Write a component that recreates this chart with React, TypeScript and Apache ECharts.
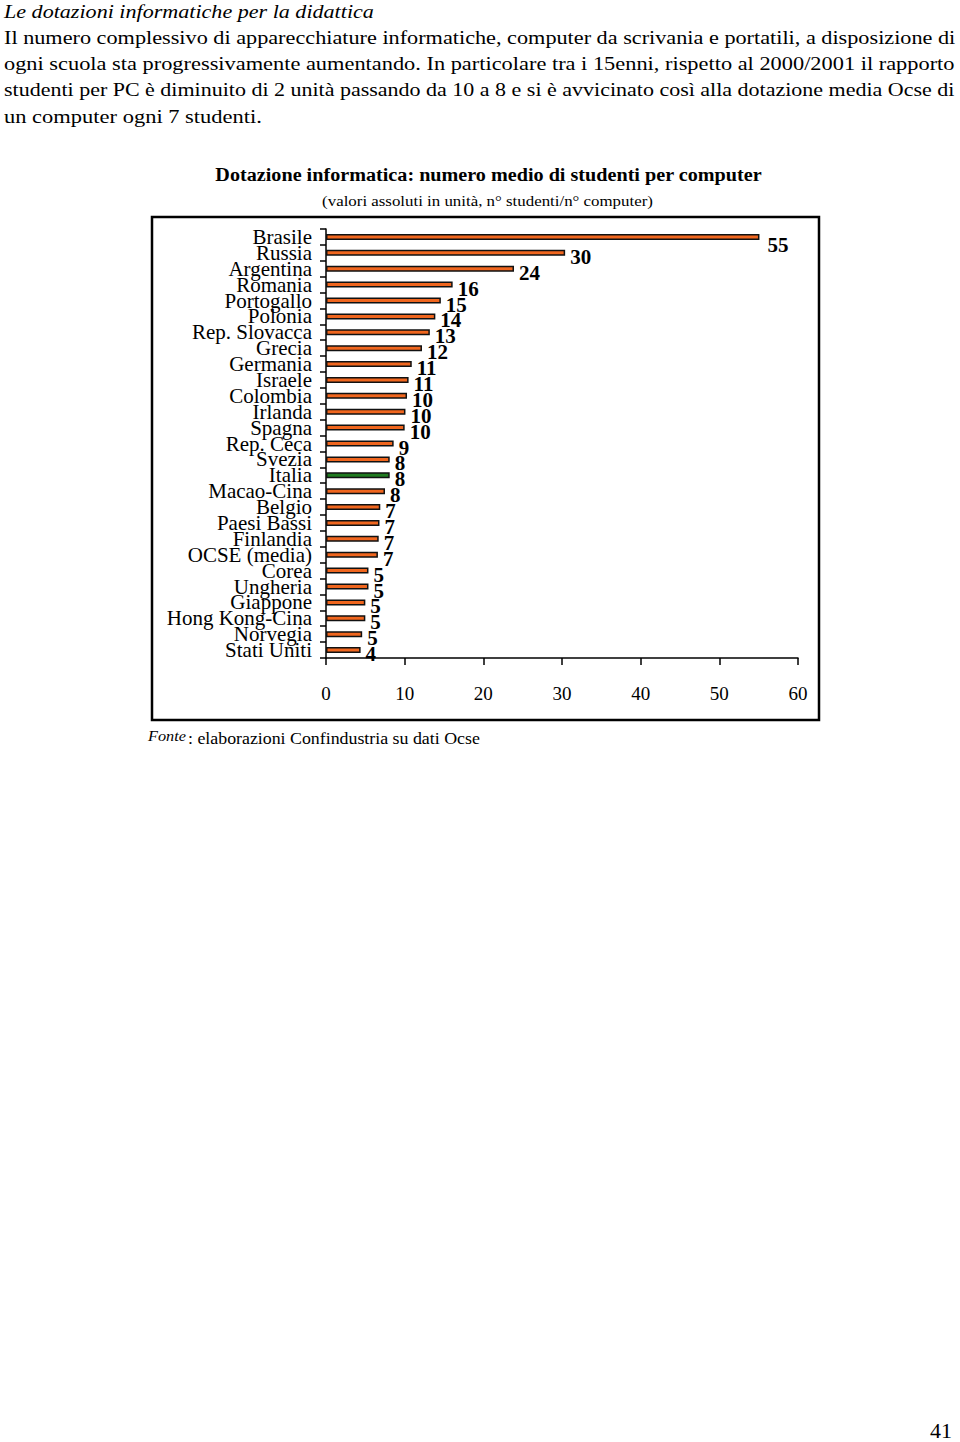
import React, { useEffect, useRef } from "react";
import * as echarts from "echarts";

const categories = [
  "Brasile", "Russia", "Argentina", "Romania", "Portogallo", "Polonia", "Rep. Slovacca",
  "Grecia", "Germania", "Israele", "Colombia", "Irlanda", "Spagna", "Rep. Ceca", "Svezia",
  "Italia", "Macao-Cina", "Belgio", "Paesi Bassi", "Finlandia", "OCSE (media)", "Corea",
  "Ungheria", "Giappone", "Hong Kong-Cina", "Norvegia", "Stati Uniti",
];
const values = [
  55.1, 30.4, 23.9, 16.1, 14.6, 13.9, 13.2, 12.2, 10.9, 10.5, 10.3, 10.1, 10.0, 8.6, 8.1,
  8.1, 7.5, 6.9, 6.8, 6.7, 6.6, 5.4, 5.4, 5.0, 5.0, 4.6, 4.4,
];
const labelValues = [
  55, 30, 24, 16, 15, 14, 13, 12, 11, 11, 10, 10, 10, 9, 8, 8, 8, 7, 7, 7, 7, 5, 5, 5, 5, 5, 4,
];
const highlightCategory = "Italia";
const xMin = 0;
const xMax = 60;
const xStep = 10;

const heading = "Le dotazioni informatiche per la didattica";
const bodyLines = [
  "Il numero complessivo di apparecchiature informatiche, computer da scrivania e portatili, a disposizione di",
  "ogni scuola sta progressivamente aumentando. In particolare tra i 15enni, rispetto al 2000/2001 il rapporto",
  "studenti per PC è diminuito di 2 unità passando da 10 a 8 e si è avvicinato così alla dotazione media Ocse di",
  "un computer ogni 7 studenti.",
];
const chartTitle = "Dotazione informatica: numero medio di studenti per computer";
const chartSubtitle = "(valori assoluti in unità, n° studenti/n° computer)";
const sourceLabel = "Fonte";
const sourceText = ": elaborazioni Confindustria su dati Ocse";
const pageNumber = "41";

const SERIF = "Liberation Serif";
const ORANGE = "#F0661E";
const GREEN = "#1F7A1F";

function measure(text: string, size: number, weight = "normal", style = "normal") {
  const ctx = document.createElement("canvas").getContext("2d");
  if (!ctx) return text.length * size * 0.45;
  ctx.font = `${style} ${weight} ${size}px "${SERIF}"`;
  return ctx.measureText(text).width;
}

function fitText(
  text: string,
  x: number,
  y: number,
  size: number,
  width: number,
  opts: { weight?: string; style?: string; align?: string } = {}
) {
  const weight = opts.weight || "normal";
  const fstyle = opts.style || "normal";
  const w = measure(text, size, weight, fstyle);
  return {
    type: "text",
    x,
    y,
    scaleX: width / w,
    silent: true,
    style: {
      text,
      x: 0,
      y: 0,
      fontSize: size,
      fontFamily: SERIF,
      fontWeight: weight,
      fontStyle: fstyle,
      fill: "#000",
      align: opts.align || "left",
      verticalAlign: "middle",
    },
  };
}

export default function App() {
  const ref = useRef<HTMLDivElement>(null);

  useEffect(() => {
    if (!ref.current) return;
    const chart = echarts.init(ref.current, undefined, { renderer: "svg" });

    const bodyY = [38, 64, 90, 117];
    const bodyW = [952, 951, 951, 258];

    const graphics: any[] = [
      fitText(heading, 4, 12, 19, 370, { style: "italic" }),
      ...bodyLines.map((t, i) => fitText(t, 4, bodyY[i], 19, bodyW[i])),
      fitText(chartTitle, 488.5, 175, 19, 547, { weight: "bold", align: "center" }),
      fitText(chartSubtitle, 487.5, 201, 14, 331, { align: "center" }),
      fitText(sourceLabel, 148, 736, 15, 38, { style: "italic" }),
      fitText(sourceText, 188, 739, 16, 292),
      fitText(pageNumber, 930, 1431, 20, 22),
      {
        type: "rect",
        silent: true,
        shape: { x: 152, y: 217, width: 667, height: 503 },
        style: { fill: "none", stroke: "#000", lineWidth: 2.5 },
      },
    ];

    chart.setOption({
      animation: false,
      backgroundColor: "#fff",
      grid: { left: 326, right: 162, top: 229, bottom: 784, containLabel: false },
      xAxis: {
        type: "value",
        min: xMin,
        max: xMax,
        interval: xStep,
        splitLine: { show: false },
        axisLine: { show: true, lineStyle: { color: "#000", width: 1.5 } },
        axisTick: { show: true, length: 7, lineStyle: { color: "#000", width: 1.5 } },
        axisLabel: { margin: 26, fontSize: 19, fontFamily: SERIF, color: "#000" },
      },
      yAxis: {
        type: "category",
        data: categories,
        inverse: true,
        axisLine: { show: true, lineStyle: { color: "#000", width: 1.5 } },
        axisTick: { show: true, length: 6, alignWithLabel: false, lineStyle: { color: "#000", width: 1.5 } },
        axisLabel: { margin: 14, fontSize: 21, fontFamily: SERIF, color: "#000", interval: 0 },
        splitLine: { show: false },
      },
      series: [
        {
          type: "bar",
          barWidth: 6,
          data: values.map((v, i) => ({
            value: v,
            itemStyle: {
              color: categories[i] === highlightCategory ? GREEN : ORANGE,
              borderColor: "#111",
              borderWidth: 1.5,
            },
            label: i === 0 ? { offset: [3, 8] } : undefined,
          })),
          label: {
            show: true,
            position: "right",
            distance: 5,
            offset: [0, 4],
            fontSize: 21,
            fontWeight: "bold",
            fontFamily: SERIF,
            color: "#000",
            formatter: (p: any) => String(labelValues[p.dataIndex]),
          },
        },
      ],
      graphic: graphics,
    });

    return () => chart.dispose();
  }, []);

  return (
    <div
      ref={ref}
      style={{ position: "absolute", left: 0, top: 0, width: 960, height: 1442, background: "#fff" }}
    />
  );
}
